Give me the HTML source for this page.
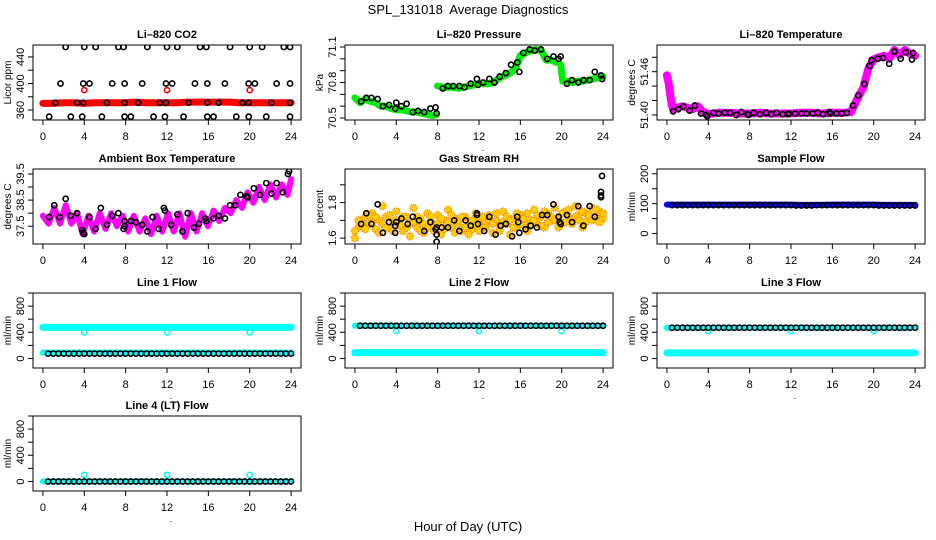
<!DOCTYPE html>
<html><head><meta charset="utf-8"><style>
body{margin:0;background:#fff}
svg{display:block;font-family:"Liberation Sans",sans-serif}
</style></head><body>
<svg id="chart" width="936" height="540" viewBox="0 0 936 540" xmlns="http://www.w3.org/2000/svg">
<text x="468" y="14" text-anchor="middle" font-size="13" xml:space="preserve">SPL_131018  Average Diagnostics</text>
<text x="468" y="531" text-anchor="middle" font-size="13">Hour of Day (UTC)</text>
</svg>
<script>
const xTicks=[0,4,8,12,16,20,24];
const hourly=[0,1,2,3,4,5,6,7,8,9,10,11,12,13,14,15,16,17,18,19,20,21,22,23,24];
const dipTimes=[4,12,20];
// CO2
const co2Band=[370,370,371,371,370,371,371,371,371,372,371,371,371,371,372,372,372,372,372,371,371,371,371,371,371];
const co2DipVals=[390,390,390];
const co2TopX=[2.2,4,5.1,7.3,7.8,10.1,12,13.0,15.2,15.8,18.1,20,21.2,23.3,23.9];
const co2MidX=[1.7,3.9,4.5,6.7,7.9,9.6,11.9,12.5,14.7,15.9,17.6,19.9,20.5,22.6,23.9];
const co2LowX=[1.2,3.3,3.9,6.2,7.9,9.2,11.3,11.9,14.1,15.9,17.0,19.3,19.9,22.1,23.9];
const co2BotX=[0.6,2.7,3.8,5.7,7.9,8.5,10.7,11.8,13.6,15.9,16.5,18.7,19.9,21.6,23.9];
const co2Levels=[455,400,371,350];
// Pressure
const presTimes=[0,0.5,1,1.5,2,2.5,3,3.5,4,4.5,5,5.5,6,6.5,7,7.5,7.9,8.0,8.5,9,9.5,10,10.5,11,11.5,12,12.5,13,13.5,14,14.5,15,15.5,16,16.5,17,17.5,18,18.5,19,19.5,19.9,20.1,20.5,21,21.5,22,22.5,23,23.5,24];
const presVals=[70.67,70.63,70.66,70.64,70.63,70.60,70.60,70.58,70.57,70.57,70.56,70.55,70.55,70.54,70.53,70.52,70.53,70.77,70.76,70.76,70.76,70.75,70.76,70.77,70.78,70.79,70.79,70.79,70.81,70.84,70.86,70.88,70.91,71.03,71.05,71.07,71.08,71.07,70.99,70.99,70.97,70.95,70.81,70.81,70.80,70.81,70.81,70.82,70.83,70.84,70.85];
const presPtX=[0.6,1.1,1.6,2.2,2.7,3.3,3.9,4.0,4.5,5.0,5.6,6.1,6.7,7.3,7.8,7.9,8.5,9.0,9.5,10.1,10.6,11.2,11.8,11.9,12.4,13.0,13.5,14.0,14.6,15.1,15.7,15.9,16.3,16.9,17.4,18.0,18.6,19.2,19.7,19.9,20.5,21.0,21.6,22.1,22.7,23.2,23.8,23.9];
const presPtY=[70.64,70.67,70.67,70.66,70.6,70.61,70.58,70.63,70.6,70.62,70.55,70.56,70.55,70.58,70.59,70.54,70.75,70.77,70.77,70.77,70.76,70.79,70.83,70.78,70.8,70.83,70.8,70.85,70.88,70.95,70.97,70.89,71.05,71.08,71.07,71.08,71.0,71.02,71.0,71.02,70.79,70.82,70.80,70.82,70.82,70.89,70.86,70.83];
// Li-820 temperature
const tempTimes=[0,0.15,0.3,0.45,0.6,1,1.5,2,2.5,3,3.5,4,5,6,7,8,9,10,11,12,13,14,15,16,17,17.8,18.1,18.5,19,19.5,20,20.5,21,21.5,22,22.5,23,23.5,24];
const tempVals=[51.455,51.445,51.43,51.415,51.408,51.41,51.412,51.41,51.408,51.412,51.404,51.401,51.403,51.403,51.402,51.402,51.403,51.402,51.402,51.402,51.403,51.403,51.402,51.403,51.403,51.404,51.413,51.425,51.438,51.465,51.477,51.48,51.482,51.478,51.49,51.483,51.49,51.485,51.482];
const tempPtX=[0.6,1.1,1.6,2.2,2.7,3.3,3.8,3.9,4.5,5.0,5.6,6.1,6.7,7.2,7.8,7.9,8.4,9.0,9.6,10.1,10.6,11.2,11.7,11.8,12.4,13.0,13.5,14.1,14.6,15.1,15.7,15.8,16.4,16.9,17.4,18.0,18.5,19.1,19.6,19.8,20.4,20.9,21.5,22.0,22.6,23.1,23.7,23.8];
const tempPtY=[51.405,51.408,51.412,51.406,51.413,51.402,51.400,51.398,51.403,51.402,51.403,51.403,51.400,51.404,51.401,51.400,51.403,51.401,51.403,51.401,51.403,51.401,51.401,51.402,51.402,51.402,51.402,51.402,51.403,51.401,51.404,51.402,51.402,51.402,51.403,51.413,51.427,51.443,51.468,51.476,51.478,51.479,51.471,51.488,51.478,51.487,51.477,51.486];
// Ambient box temperature
const ambTimes=[0,0.55,1.1,1.65,2.2,2.75,3.3,3.85,4.4,4.95,5.5,6.05,6.6,7.15,7.7,8.25,8.8,9.35,9.9,10.45,11.0,11.55,12.1,12.65,13.2,13.75,14.3,14.85,15.4,15.95,16.5,17.05,17.6,18.15,18.7,19.25,19.8,20.35,20.9,21.45,22.0,22.55,23.1,23.65,24];
const ambVals=[37.9,37.6,38.2,37.6,38.3,37.6,38.0,37.2,37.9,37.3,38.0,37.4,38.0,37.5,37.9,37.3,37.9,37.3,37.8,37.2,37.9,37.3,38.0,37.3,38.0,37.1,38.0,37.3,38.0,37.5,38.1,37.7,38.2,38.0,38.5,38.2,38.8,38.4,39.0,38.5,39.1,38.6,39.1,38.7,39.3];
const ambPtX=[0.6,1.1,1.6,2.2,2.7,3.3,3.8,3.9,4.0,4.5,5.1,5.6,6.2,6.7,7.3,7.8,7.9,7.9,8.5,9.0,9.6,10.1,10.6,11.2,11.7,11.8,12.4,13.0,13.5,14.0,14.6,15.1,15.7,15.8,16.5,17.0,17.6,18.1,18.6,19.1,19.7,19.8,20.4,21.0,21.6,22.1,22.6,23.2,23.7,23.8];
const ambPtY=[37.85,38.3,37.85,38.55,37.9,38.0,37.35,37.25,37.2,37.85,37.4,38.2,37.55,37.9,38.0,37.4,37.5,37.7,37.7,37.65,37.55,37.3,37.85,37.4,38.2,38.1,37.55,37.95,37.3,38.0,37.45,37.6,37.8,37.7,37.8,37.9,37.8,38.3,38.3,38.7,38.65,38.6,38.95,38.7,39.15,38.75,39.15,38.8,39.5,39.6];
// Gas stream RH
const rhCloudA=[1.60,1.66,1.70,1.72,1.68,1.74,1.65,1.70,1.78,1.72,1.66,1.69,1.75,1.70,1.64,1.72,1.68,1.77,1.66,1.71,1.63,1.74,1.69,1.67,1.73,1.62,1.70,1.76,1.66,1.71,1.68,1.64,1.72,1.69,1.65,1.74,1.70,1.66,1.68,1.73,1.63,1.70,1.67,1.75,1.68,1.62,1.71,1.66,1.73,1.69,1.64,1.70,1.76,1.68,1.72,1.66,1.74,1.70,1.77,1.71,1.68,1.75,1.72,1.70,1.78,1.73,1.66,1.74,1.71,1.77,1.72,1.75,1.71];
const rhCloudB=[1.64,1.70,1.67,1.65,1.73,1.69,1.72,1.63,1.68,1.66,1.73,1.64,1.70,1.67,1.72,1.66,1.61,1.69,1.72,1.64,1.68,1.66,1.72,1.64,1.68,1.71,1.65,1.69,1.73,1.63,1.70,1.72,1.66,1.62,1.70,1.67,1.64,1.72,1.66,1.70,1.68,1.74,1.64,1.69,1.72,1.70,1.66,1.74,1.68,1.71,1.74,1.67,1.70,1.73,1.67,1.75,1.69,1.72,1.70,1.66,1.74,1.69,1.76,1.68,1.72,1.70,1.75,1.69,1.73,1.70,1.76,1.69,1.74];
const rhPtX=[0.6,1.1,1.6,2.2,2.7,3.3,3.9,3.9,4.0,4.5,5.1,5.6,6.2,6.7,7.3,7.8,7.9,7.9,7.9,8.4,9.0,9.6,10.1,10.7,11.2,11.8,11.8,11.9,12.5,13.0,13.6,14.1,14.6,15.2,15.7,15.8,15.9,16.5,17.0,17.6,18.1,18.6,19.2,19.7,19.8,19.9,20.5,21.0,21.6,22.1,22.7,23.2,23.8,23.8,23.8,23.9];
const rhPtY=[1.68,1.74,1.68,1.79,1.63,1.69,1.67,1.63,1.69,1.71,1.68,1.72,1.70,1.64,1.69,1.65,1.66,1.62,1.58,1.66,1.66,1.70,1.64,1.70,1.67,1.73,1.74,1.68,1.64,1.72,1.62,1.67,1.68,1.61,1.72,1.69,1.63,1.65,1.67,1.66,1.73,1.73,1.79,1.72,1.69,1.68,1.73,1.69,1.78,1.67,1.78,1.72,1.83,1.84,1.86,1.95];
// Flows
const halfHours=[0.5,1,1.5,2,2.5,3,3.5,4,4.5,5,5.5,6,6.5,7,7.5,8,8.5,9,9.5,10,10.5,11,11.5,12,12.5,13,13.5,14,14.5,15,15.5,16,16.5,17,17.5,18,18.5,19,19.5,20,20.5,21,21.5,22,22.5,23,23.5,24];
const sampleBand=[97,97,97,97,97,97,97,97,97,97,97,97,97,96,96,96,97,97,97,97,97,96,96,96,96];
const samplePts=[95,95,95,95,95,95,95,95,95,95,95,95,95,95,95,95,95,95,95,95,95,95,95,95,94,94,94,94,95,95,95,95,95,95,95,95,95,95,95,95,94,94,94,94,94,94,94,94];
const line1High=[475,475,475,475,475,475,475,475,475,475,475,475,475,475,475,475,475,475,475,475,475,475,475,475,475];
const line1Low=[90,90,90,90,90,90,90,90,90,90,90,90,90,90,90,90,90,90,90,90,90,90,90,90,90];
const line1Pts=[75,75,75,75,75,75,75,75,75,75,75,75,75,75,75,75,75,75,75,75,75,75,75,75,75,75,75,75,75,75,75,75,75,75,75,75,75,75,75,75,75,75,75,75,75,75,75,75];
const line1Dips=[400,400,400];
const line2High=[500,500,500,500,500,500,500,500,500,500,500,500,500,500,500,500,500,500,500,500,500,500,500,500,500];
const line2Low=[90,90,90,90,90,90,90,90,90,90,90,90,90,90,90,90,90,90,90,90,90,90,90,90,90];
const line2Pts=[500,500,500,500,500,500,500,500,500,500,500,500,500,500,500,500,500,500,500,500,500,500,500,500,500,500,500,500,500,500,500,500,500,500,500,500,500,500,500,500,500,500,500,500,500,500,500,500];
const line2Dips=[420,420,420];
const line3High=[470,470,470,470,470,470,470,470,470,470,470,470,470,470,470,470,470,470,470,470,470,470,470,470,470];
const line3Low=[85,85,85,85,85,85,85,85,85,85,85,85,85,85,85,85,85,85,85,85,85,85,85,85,85];
const line3Pts=[470,470,470,470,470,470,470,470,470,470,470,470,470,470,470,470,470,470,470,470,470,470,470,470,470,470,470,470,470,470,470,470,470,470,470,470,470,470,470,470,470,470,470,470,470,470,470,470];
const line3Dips=[420,420,420];
const line4Band=[0,0,0,0,0,0,0,0,0,0,0,0,0,0,0,0,0,0,0,0,0,0,0,0,0];
const line4Pts=[0,0,0,0,0,0,0,0,0,0,0,0,0,0,0,0,0,0,0,0,0,0,0,0,0,0,0,0,0,0,0,0,0,0,0,0,0,0,0,0,0,0,0,0,0,0,0,0];
const line4Dips=[100,100,100];

const NS='http://www.w3.org/2000/svg';
const svg=document.getElementById('chart');
const colLeft=[33,345,657], rowTop=[45,169,293,416];
const BW=268, BH=75;
function mk(tag,attrs,parent){const e=document.createElementNS(NS,tag);for(const k in attrs)e.setAttribute(k,attrs[k]);(parent||svg).appendChild(e);return e;}
function seq(times,vals){return times.map((t,i)=>[t,vals[i]]);}
function idxSeq(vals){const n=vals.length;return vals.map((v,i)=>[i*24/(n-1),v]);}
function constSeq(times,v){return times.map(t=>[t,v]);}

const panels=[
 {key:'co2',col:0,row:0,title:'Li\u2013820 CO2',ylab:'Licor ppm',ylim:[345,458],ticks:[360,380,400,420,440],labels:[360,400,440],
  series:[{type:'band',color:'#ff0000',w:7,data:seq(hourly,co2Band)},
   {type:'pts',color:'#ff0000',data:seq(dipTimes,co2DipVals)},
   {type:'pts',color:'#000',data:constSeq(co2TopX,co2Levels[0])},
   {type:'pts',color:'#000',data:constSeq(co2MidX,co2Levels[1])},
   {type:'pts',color:'#000',data:constSeq(co2LowX,co2Levels[2])},
   {type:'pts',color:'#000',data:constSeq(co2BotX,co2Levels[3])}]},
 {key:'pressure',col:1,row:0,title:'Li\u2013820 Pressure',ylab:'kPa',ylim:[70.483,71.117],ticks:[70.5,70.6,70.7,70.8,70.9,71.0,71.1],labels:[70.5,70.8,71.1],
  series:[{type:'band',color:'#00ee00',w:7,data:seq(presTimes.slice(0,17),presVals.slice(0,17))},
   {type:'band',color:'#00ee00',w:7,data:seq(presTimes.slice(17,41),presVals.slice(17,41))},
   {type:'band',color:'#00ee00',w:7,data:seq(presTimes.slice(41),presVals.slice(41))},
   {type:'pts',color:'#000',data:seq(presPtX,presPtY)}]},
 {key:'li820-temp',col:2,row:0,title:'Li\u2013820 Temperature',ylab:'degrees C',ylim:[51.393,51.497],ticks:[51.40,51.42,51.44,51.46,51.48],labels:[51.40,51.46],fmt:2,
  series:[{type:'band',color:'#ff00ff',w:8,data:seq(tempTimes,tempVals)},
   {type:'pts',color:'#000',data:seq(tempPtX,tempPtY)}]},
 {key:'ambient',col:0,row:1,title:'Ambient Box Temperature',ylab:'degrees C',ylim:[36.82,39.69],ticks:[37.5,38,38.5,39,39.5],labels:[37.5,38.5,39.5],
  series:[{type:'band',color:'#ff00ff',w:6,data:seq(ambTimes,ambVals)},
   {type:'pts',color:'#000',data:seq(ambPtX,ambPtY)}]},
 {key:'rh',col:1,row:1,title:'Gas Stream RH',ylab:'percent',ylim:[1.567,1.989],ticks:[1.6,1.7,1.8,1.9],labels:[1.6,1.8],
  series:[{type:'cloud',data:idxSeq(rhCloudA)},{type:'cloud',data:idxSeq(rhCloudB)},
   {type:'pts',color:'#000',data:seq(rhPtX,rhPtY)}]},
 {key:'sample-flow',col:2,row:1,title:'Sample Flow',ylab:'ml/min',ylim:[-35,216],ticks:[0,50,100,150,200],labels:[0,100,200],
  series:[{type:'band',color:'#0000ff',w:6,data:seq(hourly,sampleBand)},
   {type:'pts',color:'#000',data:seq(halfHours,samplePts)}]},
 {key:'line1',col:0,row:2,title:'Line 1 Flow',ylab:'ml/min',ylim:[-145,1000],ticks:[0,200,400,600,800,1000],labels:[0,400,800],
  series:[{type:'band',color:'#00ffff',w:7,data:seq(hourly,line1High)},{type:'band',color:'#00ffff',w:6,data:seq(hourly,line1Low)},
   {type:'pts',color:'#00ffff',data:seq(dipTimes,line1Dips)},{type:'pts',color:'#000',data:seq(halfHours,line1Pts)}]},
 {key:'line2',col:1,row:2,title:'Line 2 Flow',ylab:'ml/min',ylim:[-145,1000],ticks:[0,200,400,600,800,1000],labels:[0,400,800],
  series:[{type:'band',color:'#00ffff',w:6,data:seq(hourly,line2High)},{type:'band',color:'#00ffff',w:7,data:seq(hourly,line2Low)},
   {type:'pts',color:'#00ffff',data:seq(dipTimes,line2Dips)},{type:'pts',color:'#000',data:seq(halfHours,line2Pts)}]},
 {key:'line3',col:2,row:2,title:'Line 3 Flow',ylab:'ml/min',ylim:[-145,1000],ticks:[0,200,400,600,800,1000],labels:[0,400,800],
  series:[{type:'band',color:'#00ffff',w:6,data:seq(hourly,line3High)},{type:'band',color:'#00ffff',w:7,data:seq(hourly,line3Low)},
   {type:'pts',color:'#00ffff',data:seq(dipTimes,line3Dips)},{type:'pts',color:'#000',data:seq(halfHours,line3Pts)}]},
 {key:'line4',col:0,row:3,title:'Line 4 (LT) Flow',ylab:'ml/min',ylim:[-145,1000],ticks:[0,200,400,600,800,1000],labels:[0,400,800],
  series:[{type:'band',color:'#00ffff',w:6,data:seq(hourly,line4Band)},
   {type:'pts',color:'#00ffff',data:seq(dipTimes,line4Dips)},{type:'pts',color:'#000',data:seq(halfHours,line4Pts)}]}
];

panels.forEach(p=>{
  const L=colLeft[p.col],T=rowTop[p.row],R=L+BW,B=T+BH;
  const xs=h=>L+(h+0.96)/25.92*BW;
  const ys=v=>B-(v-p.ylim[0])/(p.ylim[1]-p.ylim[0])*BH;
  const g=mk('g',{});
  
  
  const t=mk('text',{x:(L+R)/2,y:T-7,'text-anchor':'middle','font-size':11,'font-weight':'bold'},g);
  t.textContent=p.title;
  
  
  const plot=mk('g',{},g);
  
  
  const clip=mk('clipPath',{id:'clip-'+p.key},g);
  mk('rect',{x:L,y:T,width:BW,height:BH},clip);
  plot.setAttribute('clip-path','url(#clip-'+p.key+')');
  p.series.forEach(s=>{
    if(s.type==='band'){
      const pl=mk('polyline',{points:s.data.map(d=>xs(d[0]).toFixed(1)+','+ys(d[1]).toFixed(1)).join(' '),fill:'none',stroke:s.color,'stroke-width':s.w,'stroke-linecap':'round','stroke-linejoin':'round'},plot);
      
      
    } else if(s.type==='cloud'){
      s.data.forEach(d=>{
        const c=mk('circle',{cx:xs(d[0]),cy:ys(d[1]),r:3.5,fill:'#ffd000',stroke:'#ff8800','stroke-width':1.5,'stroke-dasharray':'1 1'},plot);
        
        
      });
    } else {
      s.data.forEach(d=>{
        const c=mk('circle',{cx:xs(d[0]),cy:ys(d[1]),r:2.6,fill:'none',stroke:s.color,'stroke-width':1.6},plot);
        
        
      });
    }
  });
  const box=mk('rect',{x:L,y:T,width:BW,height:BH,fill:'none',stroke:'#000','stroke-width':1},g);
  
  
  const xa=mk('g',{},g);
  
  
  xTicks.forEach(h=>{
    mk('line',{x1:xs(h),x2:xs(h),y1:B,y2:B+5,stroke:'#000'},xa);
    const tl=mk('text',{x:xs(h),y:B+20,'text-anchor':'middle','font-size':11},xa);
    tl.textContent=h;
    
    
  });
  const dot=mk('text',{x:xs(12)+4,y:B+31,'text-anchor':'middle','font-size':9},xa);
  dot.textContent='.';
  
  
  const ya=mk('g',{},g);
  
  
  p.ticks.forEach(v=>{
    if(ys(v)<T-0.5)return;
    mk('line',{x1:L,x2:L-5,y1:ys(v),y2:ys(v),stroke:'#000'},ya);
  });
  p.labels.forEach(v=>{
    const yy=ys(v),xx=L-9;
    const tl=mk('text',{x:xx,y:yy,'text-anchor':'middle','font-size':11,transform:'rotate(-90 '+xx+' '+yy+')'},ya);
    tl.textContent=p.fmt?v.toFixed(p.fmt):String(v);
    
    
  });
  const yt=mk('text',{x:L-22,y:(T+B)/2,'text-anchor':'middle','font-size':10,transform:'rotate(-90 '+(L-22)+' '+((T+B)/2)+')'},g);
  yt.textContent=p.ylab;
  
  
});
</script>
</body></html>
